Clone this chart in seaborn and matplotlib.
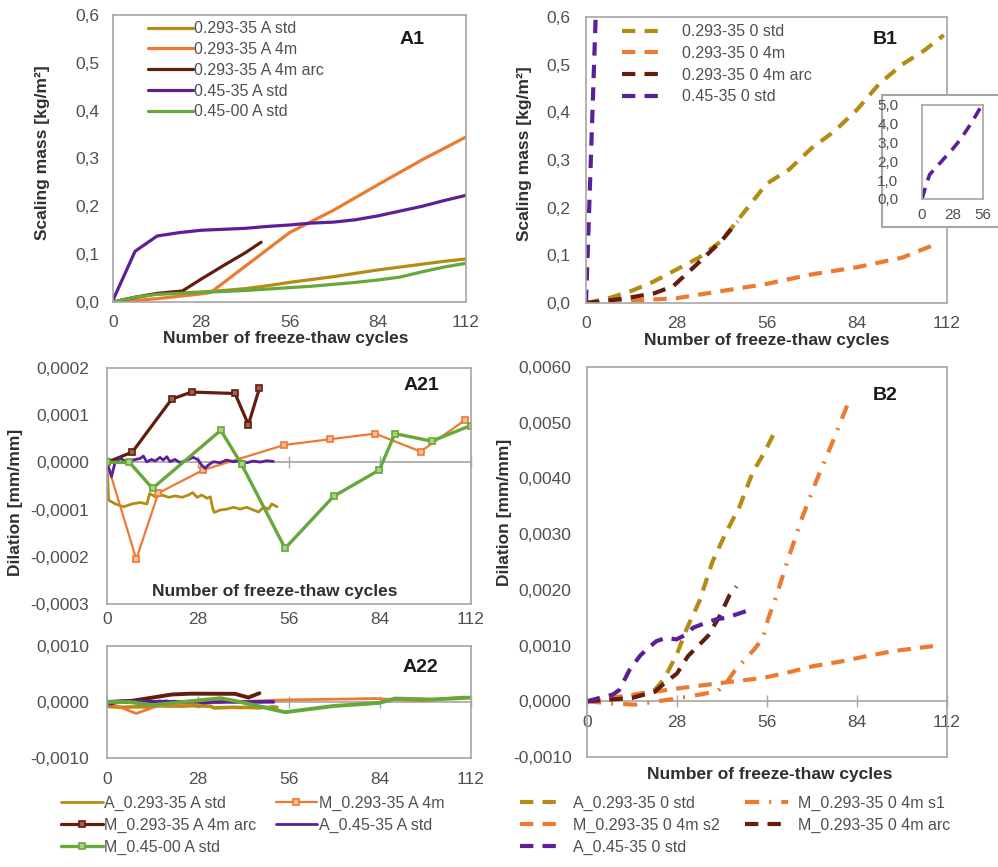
import numpy as np
import pandas as pd
import matplotlib
matplotlib.use("Agg")
import matplotlib.pyplot as plt
import seaborn as sns
from matplotlib.ticker import FuncFormatter, NullFormatter
from matplotlib.patches import Rectangle
from matplotlib.lines import Line2D

# ---------------- data ----------------
ticks_x = [0, 28, 56, 84, 112]
ticks_scal = [0, 0.1, 0.2, 0.3, 0.4, 0.5, 0.6]
ticks_a21 = [-0.0003, -0.0002, -0.0001, 0.0, 0.0001, 0.0002]
ticks_a22 = [-0.001, 0.0, 0.001]
ticks_b2 = [-0.001, 0.0, 0.001, 0.002, 0.003, 0.004, 0.005, 0.006]
ticks_inset_y = [0, 1, 2, 3, 4, 5]
ticks_inset_x = [0, 28, 56]

# A1 - scaling mass, air-entrained (kg/m2)
a1_std_x = [0, 7, 14, 21, 28, 35, 42, 49, 56, 63, 70, 77, 84, 91, 98, 105, 112]
a1_std_y = [0, 0.009, 0.017, 0.019, 0.021, 0.024, 0.028, 0.034, 0.041, 0.047, 0.053, 0.060, 0.067, 0.073, 0.079, 0.085, 0.090]
a1_4m_x = [0, 7, 14, 21, 28, 31, 42, 56, 70, 84, 98, 112]
a1_4m_y = [0, 0.003, 0.007, 0.012, 0.017, 0.020, 0.075, 0.145, 0.192, 0.245, 0.297, 0.345]
a1_arc_x = [0, 7, 14, 22, 28, 35, 42, 47]
a1_arc_y = [0, 0.010, 0.018, 0.023, 0.048, 0.076, 0.103, 0.125]
a1_045_x = [0, 7, 14, 21, 28, 35, 42, 49, 56, 63, 70, 77, 84, 91, 98, 105, 112]
a1_045_y = [0.004, 0.106, 0.138, 0.145, 0.150, 0.152, 0.154, 0.158, 0.161, 0.165, 0.167, 0.172, 0.180, 0.190, 0.200, 0.212, 0.223]
a1_00_x = [0, 7, 14, 21, 28, 35, 42, 49, 56, 63, 70, 77, 84, 91, 98, 105, 112]
a1_00_y = [0, 0.010, 0.016, 0.018, 0.020, 0.022, 0.024, 0.027, 0.030, 0.033, 0.037, 0.041, 0.046, 0.052, 0.063, 0.073, 0.081]

# B1 - scaling mass, non air-entrained (kg/m2)
b1_std_x = [0, 7, 14, 21, 28, 35, 42, 49, 56, 63, 70, 77, 84, 91, 98, 105, 111]
b1_std_y = [0, 0.010, 0.025, 0.045, 0.070, 0.095, 0.130, 0.190, 0.250, 0.280, 0.325, 0.360, 0.405, 0.460, 0.500, 0.530, 0.562]
b1_4m_x = [0, 14, 28, 42, 56, 70, 84, 98, 108]
b1_4m_y = [0, 0.005, 0.010, 0.025, 0.040, 0.060, 0.075, 0.095, 0.122]
b1_arc_x = [0, 7, 14, 21, 27, 35, 42, 47]
b1_arc_y = [0, 0.005, 0.012, 0.020, 0.035, 0.085, 0.130, 0.171]
b1_045_x = [0, 3, 7, 14, 21, 28, 35, 42, 49, 55]
b1_045_y = [0, 0.60, 1.30, 1.75, 2.20, 2.65, 3.15, 3.75, 4.40, 5.00]

# A21 / A22 - dilation, air-entrained (mm/mm)
a2_std_x = [0, 0.5, 2.6, 5.1, 7.7, 10.2, 12.3, 13.1, 14.9, 16.9, 19.0, 21.0, 23.1, 25.1, 26.4, 27.7,
            29.2, 30.7, 31.8, 32.5, 33.0, 34.8, 36.9, 38.9, 41.0, 43.0, 45.1, 46.6, 48.2, 49.7, 50.7, 52.3]
a2_std_y = [0, -0.80e-4, -0.88e-4, -0.94e-4, -0.88e-4, -0.85e-4, -0.88e-4, -0.66e-4, -0.73e-4, -0.69e-4,
            -0.74e-4, -0.71e-4, -0.74e-4, -0.69e-4, -0.64e-4, -0.74e-4, -0.69e-4, -0.76e-4, -0.73e-4,
            -0.97e-4, -1.06e-4, -1.01e-4, -0.99e-4, -0.95e-4, -0.99e-4, -0.95e-4, -1.01e-4, -1.05e-4,
            -0.95e-4, -0.99e-4, -0.88e-4, -0.94e-4]
a2_4m_x = [0, 9, 15.8, 29.6, 54.6, 68.6, 82.5, 96.5, 110]
a2_4m_y = [0, -2.05e-4, -0.65e-4, -0.16e-4, 0.37e-4, 0.49e-4, 0.61e-4, 0.23e-4, 0.89e-4]
a2_arc_x = [0, 7.8, 19.9, 26, 39.4, 43.5, 46.9]
a2_arc_y = [0, 0.22e-4, 1.34e-4, 1.49e-4, 1.46e-4, 0.80e-4, 1.57e-4]
a2_045_x = [0, 1.4, 2.5, 4.0, 6.1, 8.1, 10.2, 11.2, 12.2, 13.7, 14.8, 16.3, 17.3, 18.4, 19.4, 20.9, 22.5,
            24.5, 26.6, 28.1, 29.1, 30.2, 31.2, 32.7, 34.8, 36.8, 38.9, 40.9, 43.0, 45.0, 47.1, 49.1, 51.2]
a2_045_y = [0, -0.30e-4, 0.01e-4, 0.085e-4, 0.01e-4, 0.05e-4, 0.085e-4, 0.134e-4, 0.01e-4, 0.063e-4,
            0.028e-4, 0.106e-4, 0.05e-4, 0.12e-4, 0.014e-4, 0.063e-4, -0.007e-4, 0.05e-4, 0.106e-4,
            0.05e-4, -0.056e-4, -0.127e-4, -0.056e-4, 0.014e-4, -0.007e-4, 0.05e-4, 0.014e-4, 0.035e-4,
            -0.007e-4, 0.028e-4, 0.007e-4, 0.035e-4, 0.021e-4]
a2_00_x = [0, 6.9, 14, 35, 41.4, 54.8, 69.7, 83.8, 88.6, 99.9, 111.9]
a2_00_y = [0, 0, -0.55e-4, 0.68e-4, -0.04e-4, -1.82e-4, -0.72e-4, -0.16e-4, 0.61e-4, 0.45e-4, 0.78e-4]

# B2 - dilation, non air-entrained (mm/mm)
b2_std_x = [0, 7, 14, 21, 24, 28, 31, 35, 39, 43, 47.5, 51.5, 55.5, 58.5]
b2_std_y = [0, 0.00003, 0.0001, 0.0002, 0.0004, 0.00085, 0.0013, 0.0018, 0.0025, 0.0030, 0.0035, 0.0041, 0.0045, 0.00485]
b2_s1_x = [0, 8, 15, 22, 29, 36, 40.8, 43.3, 46, 49.6, 52, 54.8, 56.3, 58.9, 62.5, 66.7, 71.3, 76.5, 78.6, 81.5]
b2_s1_y = [0, -0.00004, -0.00006, 0, 0.00006, 0.00013, 0.00019, 0.00033, 0.00055, 0.00078, 0.00093,
           0.00114, 0.00147, 0.00189, 0.00254, 0.00326, 0.00395, 0.00467, 0.00497, 0.00539]
b2_s2_x = [0, 7, 18.5, 26.8, 35, 43.3, 54.8, 62, 70.3, 79.6, 86.9, 95.2, 107.6]
b2_s2_y = [0, 0.00006, 0.00015, 0.00022, 0.00028, 0.00034, 0.00042, 0.00051, 0.00063, 0.00072, 0.00081, 0.0009, 0.00099]
b2_arc_x = [0, 7, 14, 21, 24.2, 28, 31.4, 37.6, 41.3, 44.4, 46.5]
b2_arc_y = [0, 0.00003, 0.00006, 0.00017, 0.00033, 0.0005, 0.00081, 0.00117, 0.00153, 0.00191, 0.00206]
b2_045_x = [0, 3.9, 8, 10, 13.3, 16.4, 18.5, 21.6, 24.7, 27.8, 30.9, 33, 37, 40.2, 43.3, 46.5, 49.6, 51.6]
b2_045_y = [0, 0.00006, 0.00012, 0.0002, 0.00057, 0.00081, 0.00093, 0.00108, 0.00114, 0.00111, 0.0012,
            0.00132, 0.00141, 0.00147, 0.0015, 0.00156, 0.00162, 0.00163]

# labels
lab_A1 = ["0.293-35 A std", "0.293-35 A 4m", "0.293-35 A 4m arc", "0.45-35 A std", "0.45-00 A std"]
lab_B1 = ["0.293-35 0 std", "0.293-35 0 4m", "0.293-35 0 4m arc", "0.45-35 0 std"]
lab_A2 = ["A_0.293-35 A std", "M_0.293-35 A 4m", "M_0.293-35 A 4m arc", "A_0.45-35 A std", "M_0.45-00 A std"]
lab_B2 = ["A_0.293-35 0 std", "M_0.293-35 0 4m s1", "M_0.293-35 0 4m s2", "M_0.293-35 0 4m arc", "A_0.45-35 0 std"]
xlab = "Number of freeze-thaw cycles"

# ---------------- style ----------------
sns.set_theme(style="white")
plt.rcParams['font.family'] = ['Liberation Sans', 'DejaVu Sans']
GRAY = '#A6A6A6'
TXT = '#505050'
LAB = '#303030'
C_STD = '#B48C14'
C_4M = '#EC7A30'
C_ARC = '#631D0E'
C_045 = '#5B1F9A'
C_00 = '#66A83A'
DASH = (0, (3.2, 2.2))
DASHDOT = (0, (3.4, 2.4, 0.5, 2.4))
TFS = 12.5   # tick label size
LFS = 12.5   # axis label size

fig = plt.figure(figsize=(9.98, 8.67), dpi=100)
fig.patch.set_facecolor('white')


def frac(l, t, r, b):
    return [l / 998, 1 - b / 867, (r - l) / 998, (b - t) / 867]


def comma(d):
    return FuncFormatter(lambda v, p: f"{round(v, d) + 0.0:.{d}f}".replace('.', ','))


def line(ax, x, y, color, lw, ls='-', marker=None, ms=0, mfc=None, label=None):
    kws = dict(color=color, lw=lw, linestyle=ls, label=label)
    if marker:
        kws.update(marker=marker, markersize=ms, markerfacecolor=mfc,
                   markeredgecolor=color, markeredgewidth=1.2)
    sns.lineplot(x=x, y=y, ax=ax, sort=False, estimator=None, legend=False, **kws)
    return ax.lines[-1]


def style_box(ax, fs=TFS):
    for s in ax.spines.values():
        s.set_color(GRAY)
        s.set_linewidth(1.2)
        s.set_visible(True)
    ax.set_facecolor('white')
    ax.tick_params(axis='both', labelsize=fs, labelcolor=TXT, color=GRAY, width=1)


def zero_axis(ax, loc, labels, pad=4):
    sec = ax.secondary_xaxis(loc)
    sec.set_alignment('bottom')
    sec.set_xticks(ticks_x)
    sec.tick_params(axis='x', which='both', direction='inout', length=8, width=1, color=GRAY,
                    labelsize=TFS, labelcolor=TXT, pad=pad, labelbottom=labels, labeltop=False,
                    top=False, bottom=True)
    if not labels:
        sec.xaxis.set_major_formatter(NullFormatter())
    for s in sec.spines.values():
        s.set_color(GRAY)
        s.set_linewidth(1.2)
    return sec


def labels(ax, xl, xpos, yl, ypos):
    if xl:
        ax.set_xlabel(xl, fontsize=LFS, fontweight='bold', color=LAB)
        ax.xaxis.set_label_coords(*xpos)
        ax.xaxis.label.set_va('center')
    if yl:
        ax.set_ylabel(yl, fontsize=LFS, fontweight='bold', color=LAB)
        ax.yaxis.set_label_coords(*ypos)
        ax.yaxis.label.set_va('center')


axA1 = fig.add_axes(frac(113, 15, 466, 302))
axB1 = fig.add_axes(frac(586, 17, 947, 303))
axA21 = fig.add_axes(frac(107, 368, 471, 604))
axA22 = fig.add_axes(frac(107, 646, 471, 758))
axB2 = fig.add_axes(frac(587, 367, 947, 757))

# ---------- A1 ----------
hA1 = [line(axA1, a1_std_x, a1_std_y, C_STD, 2.3, label=lab_A1[0]),
       line(axA1, a1_4m_x, a1_4m_y, C_4M, 2.3, label=lab_A1[1]),
       line(axA1, a1_arc_x, a1_arc_y, C_ARC, 2.3, label=lab_A1[2]),
       line(axA1, a1_045_x, a1_045_y, C_045, 2.3, label=lab_A1[3]),
       line(axA1, a1_00_x, a1_00_y, C_00, 2.3, label=lab_A1[4])]
axA1.set_xlim(0, 112)
axA1.set_ylim(0, 0.6)
axA1.set_xticks(ticks_x)
axA1.set_yticks(ticks_scal)
axA1.yaxis.set_major_formatter(comma(1))
style_box(axA1)
axA1.tick_params(axis='x', direction='out', length=4, pad=5)
axA1.tick_params(axis='y', direction='in', length=4, pad=10)
labels(axA1, xlab, (0.49, -0.127), "Scaling mass [kg/m²]", (-0.201, 0.519))
axA1.legend(handles=hA1, loc='upper left', bbox_to_anchor=(0.099, 0.978), frameon=False,
            fontsize=11.5, labelcolor=TXT, handlelength=2.8, handletextpad=0.1,
            labelspacing=0.36, borderpad=0, borderaxespad=0)

# ---------- B1 ----------
hB1 = [line(axB1, b1_std_x, b1_std_y, C_STD, 3, ls=DASH, label=lab_B1[0]),
       line(axB1, b1_4m_x, b1_4m_y, C_4M, 3, ls=DASH, label=lab_B1[1]),
       line(axB1, b1_arc_x, b1_arc_y, C_ARC, 3, ls=DASH, label=lab_B1[2]),
       line(axB1, b1_045_x, b1_045_y, C_045, 3, ls=DASH, label=lab_B1[3])]
axB1.set_xlim(0, 112)
axB1.set_ylim(0, 0.6)
axB1.set_xticks(ticks_x)
axB1.set_yticks(ticks_scal)
axB1.yaxis.set_major_formatter(comma(1))
style_box(axB1)
axB1.tick_params(axis='x', direction='out', length=4, pad=5)
axB1.tick_params(axis='y', direction='in', length=4, pad=11)
labels(axB1, xlab, (0.501, -0.131), "Scaling mass [kg/m²]", (-0.169, 0.521))
axB1.legend(handles=hB1, loc='upper left', bbox_to_anchor=(0.1, 0.975), frameon=False,
            fontsize=11.5, labelcolor=TXT, handlelength=2.3, handletextpad=1.45,
            labelspacing=0.42, borderpad=0, borderaxespad=0)

# inset frame (open to the right edge) and inset
fig.add_artist(Rectangle((882 / 998, 1 - 227 / 867), 0.2, 132 / 867, transform=fig.transFigure,
                         facecolor='white', edgecolor='none', zorder=1))
for xs, ys in [((882, 1010), (95, 95)), ((882, 1010), (227, 227)), ((882, 882), (95, 227))]:
    fig.add_artist(Line2D([v / 998 for v in xs], [1 - v / 867 for v in ys], transform=fig.transFigure,
                          color=GRAY, lw=1.5, zorder=1.5))
axIn = fig.add_axes(frac(922, 105, 983, 199))
axIn.set_zorder(2)
line(axIn, b1_045_x, b1_045_y, C_045, 2.6, ls=DASH)
axIn.set_xlim(0, 56)
axIn.set_ylim(0, 5)
axIn.set_xticks(ticks_inset_x)
axIn.set_yticks(ticks_inset_y)
axIn.yaxis.set_major_formatter(comma(1))
style_box(axIn, fs=11)
axIn.tick_params(axis='x', direction='inout', length=5, pad=4)
axIn.tick_params(axis='y', direction='in', length=3, pad=17)

# ---------- A21 ----------
hA2 = [line(axA21, a2_std_x, a2_std_y, C_STD, 2.0, label=lab_A2[0]),
       line(axA21, a2_4m_x, a2_4m_y, C_4M, 1.6, marker='s', ms=5, mfc='#F6BC94', label=lab_A2[1]),
       line(axA21, a2_arc_x, a2_arc_y, C_ARC, 2.3, marker='s', ms=5, mfc='#A0604E', label=lab_A2[2]),
       line(axA21, a2_045_x, a2_045_y, C_045, 2.0, label=lab_A2[3]),
       line(axA21, a2_00_x, a2_00_y, C_00, 2.4, marker='s', ms=5, mfc='#A6D487', label=lab_A2[4])]
axA21.set_xlim(0, 112)
axA21.set_ylim(-0.0003, 0.0002)
axA21.set_xticks(ticks_x)
axA21.set_yticks(ticks_a21)
axA21.yaxis.set_major_formatter(comma(4))
style_box(axA21)
axA21.tick_params(axis='x', length=0, pad=6)
axA21.tick_params(axis='y', direction='in', length=4, pad=13)
zero_axis(axA21, 0.6, False)
labels(axA21, xlab, (0.46, 0.051), "Dilation [mm/mm]", (-0.25, 0.432))

# ---------- A22 ----------
line(axA22, a2_std_x, a2_std_y, C_STD, 2.6)
line(axA22, a2_4m_x, a2_4m_y, C_4M, 2.0)
line(axA22, a2_arc_x, a2_arc_y, C_ARC, 2.8)
line(axA22, a2_045_x, a2_045_y, C_045, 2.6)
line(axA22, a2_00_x, a2_00_y, C_00, 2.8)
axA22.set_xlim(0, 112)
axA22.set_ylim(-0.001, 0.001)
axA22.set_xticks(ticks_x)
axA22.set_yticks(ticks_a22)
axA22.yaxis.set_major_formatter(comma(4))
style_box(axA22)
axA22.tick_params(axis='x', length=0, pad=10)
axA22.tick_params(axis='y', direction='in', length=4, pad=13)
zero_axis(axA22, 0.5, False)

# ---------- B2 ----------
hB2 = [line(axB2, b2_std_x, b2_std_y, C_STD, 3, ls=DASH, label=lab_B2[0]),
       line(axB2, b2_s1_x, b2_s1_y, C_4M, 3, ls=DASHDOT, label=lab_B2[1]),
       line(axB2, b2_s2_x, b2_s2_y, C_4M, 3, ls=DASH, label=lab_B2[2]),
       line(axB2, b2_arc_x, b2_arc_y, C_ARC, 3, ls=DASH, label=lab_B2[3]),
       line(axB2, b2_045_x, b2_045_y, C_045, 3, ls=DASH, label=lab_B2[4])]
axB2.set_xlim(0, 112)
axB2.set_ylim(-0.001, 0.006)
axB2.set_xticks(ticks_x)
axB2.set_yticks(ticks_b2)
axB2.yaxis.set_major_formatter(comma(4))
style_box(axB2)
axB2.tick_params(axis='x', length=0, labelbottom=False)
axB2.tick_params(axis='y', direction='in', length=4, pad=11)
zero_axis(axB2, 1 / 7, True, pad=6)
labels(axB2, xlab, (0.508, -0.046), "Dilation [mm/mm]", (-0.228, 0.628))

# ---------- panel tags ----------
for txt, px, py in [("A1", 412, 40), ("B1", 885, 40), ("A21", 421, 386), ("A22", 420, 668), ("B2", 885, 396)]:
    fig.text(px / 998, 1 - py / 867, txt, ha='center', va='center', fontsize=14,
             fontweight='bold', color='#1a1a1a')

# ---------- bottom legends (row-wise order) ----------
orderA = [0, 2, 4, 1, 3]
fig.legend(handles=[hA2[i] for i in orderA], labels=[lab_A2[i] for i in orderA], ncol=2,
           loc='upper left', bbox_to_anchor=(61 / 998, 1 - 796 / 867), frameon=False,
           fontsize=11.5, labelcolor=TXT, handlelength=2.6, handletextpad=0.1,
           columnspacing=1.2, labelspacing=0.42, borderpad=0, borderaxespad=0)
orderB = [0, 2, 4, 1, 3]
fig.legend(handles=[hB2[i] for i in orderB], labels=[lab_B2[i] for i in orderB], ncol=2,
           loc='upper left', bbox_to_anchor=(520 / 998, 1 - 796 / 867), frameon=False,
           fontsize=11.5, labelcolor=TXT, handlelength=2.7, handletextpad=0.6,
           columnspacing=1.6, labelspacing=0.42, borderpad=0, borderaxespad=0)

fig.savefig("out.png", dpi=100, facecolor='white')
